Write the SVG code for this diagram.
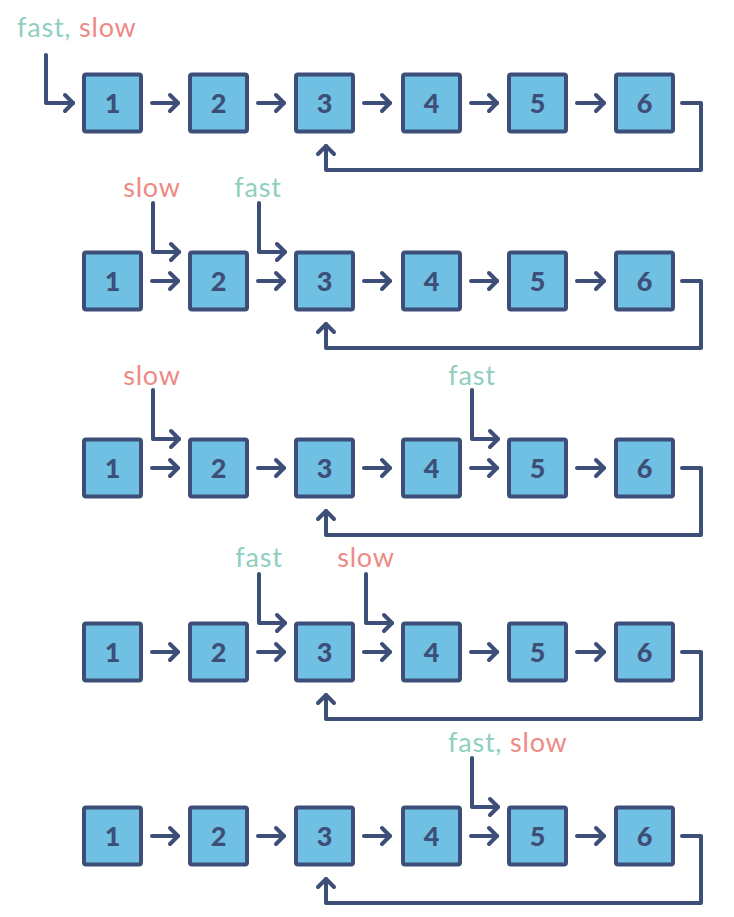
<svg xmlns="http://www.w3.org/2000/svg" width="734" height="917" viewBox="0 0 734 917">
<style>
.box{fill:#6fc0e2;stroke:#3d4e78;stroke-width:4}
.num{font-family:Lato,"Open Sans",sans-serif;font-weight:900;font-size:27px;fill:#3d4e78;text-anchor:middle}
.ln{fill:none;stroke:#3d4e78;stroke-width:4;stroke-linecap:round;stroke-linejoin:round}
.lbl{font-family:Lato,"Open Sans",sans-serif;font-size:27px;letter-spacing:0.8px}
.fast{fill:#8fcfc0}
.slow{fill:#ee8a84}
</style>
<defs>
<marker id="ah" markerUnits="userSpaceOnUse" viewBox="-12 -12 16 24" refX="0" refY="0" markerWidth="16" markerHeight="24" orient="auto" overflow="visible">
<path d="M-8,-8 L0,0 L-8,8" fill="none" stroke="#3d4e78" stroke-width="4" stroke-linecap="round" stroke-linejoin="round"/>
</marker>
<g id="row">
<rect class="box" x="84" y="-28.5" width="57" height="57" rx="2"/>
<rect class="box" x="190" y="-28.5" width="57" height="57" rx="2"/>
<rect class="box" x="296" y="-28.5" width="57" height="57" rx="2"/>
<rect class="box" x="403" y="-28.5" width="57" height="57" rx="2"/>
<rect class="box" x="509" y="-28.5" width="57" height="57" rx="2"/>
<rect class="box" x="616" y="-28.5" width="57" height="57" rx="2"/>
<text class="num" x="112.5" y="10">1</text>
<text class="num" x="218.5" y="10">2</text>
<text class="num" x="324.5" y="10">3</text>
<text class="num" x="431.5" y="10">4</text>
<text class="num" x="537.5" y="10">5</text>
<text class="num" x="644.5" y="10">6</text>
<path class="ln" marker-end="url(#ah)" d="M152,0 H178"/>
<path class="ln" marker-end="url(#ah)" d="M258,0 H284"/>
<path class="ln" marker-end="url(#ah)" d="M364,0 H390"/>
<path class="ln" marker-end="url(#ah)" d="M471,0 H497"/>
<path class="ln" marker-end="url(#ah)" d="M577,0 H604"/>
<path class="ln" marker-end="url(#ah)" d="M682,0 H701 V67 H326 V43"/>
</g>
</defs>
<g id="row1"><use href="#row" transform="translate(0,103)"/></g>
<g id="row2"><use href="#row" transform="translate(0,281)"/></g>
<g id="row3"><use href="#row" transform="translate(0,468)"/></g>
<g id="row4"><use href="#row" transform="translate(0,652)"/></g>
<g id="row5"><use href="#row" transform="translate(0,836)"/></g>
<g id="pointers">
<path class="ln" marker-end="url(#ah)" d="M46,55 V103 H73"/>
<path class="ln" marker-end="url(#ah)" d="M153,203 V252 H179"/>
<path class="ln" marker-end="url(#ah)" d="M259,203 V252 H285"/>
<path class="ln" marker-end="url(#ah)" d="M153,390 V439 H179"/>
<path class="ln" marker-end="url(#ah)" d="M472,390 V439 H498"/>
<path class="ln" marker-end="url(#ah)" d="M259,574 V623 H285"/>
<path class="ln" marker-end="url(#ah)" d="M366,574 V623 H392"/>
<path class="ln" marker-end="url(#ah)" d="M472,758 V807 H498"/>
</g>
<g id="labels">
<text class="lbl" x="17" y="37"><tspan class="fast">fast,</tspan> <tspan class="slow">slow</tspan></text>
<text class="lbl slow" x="152" y="197" text-anchor="middle">slow</text>
<text class="lbl fast" x="258" y="197" text-anchor="middle">fast</text>
<text class="lbl slow" x="152" y="385" text-anchor="middle">slow</text>
<text class="lbl fast" x="472" y="385" text-anchor="middle">fast</text>
<text class="lbl fast" x="259" y="567" text-anchor="middle">fast</text>
<text class="lbl slow" x="366" y="567" text-anchor="middle">slow</text>
<text class="lbl" x="448" y="752"><tspan class="fast">fast,</tspan> <tspan class="slow">slow</tspan></text>
</g>
</svg>
